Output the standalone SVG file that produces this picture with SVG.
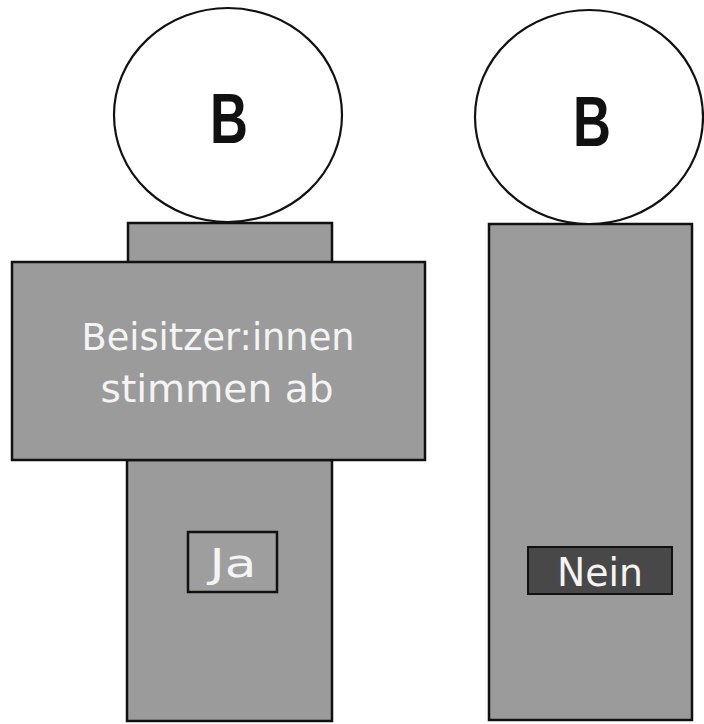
<svg xmlns="http://www.w3.org/2000/svg" width="704" height="724" viewBox="0 0 704 724">
<style>
.body{fill:#9b9b9b;stroke:#111;stroke-width:2.5}
.head{fill:#fff;stroke:#111;stroke-width:2.2}
.b{font-family:"Liberation Sans",Arial,sans-serif;font-weight:bold;font-size:71px;fill:#111;text-anchor:middle}
.lbl{font-family:"DejaVu Sans","Liberation Sans",sans-serif;font-size:37px;fill:#f4f4f4;text-anchor:middle;font-weight:normal}
</style>
<rect width="704" height="724" fill="#fff"/>
<g id="person-left">
<rect class="body" x="128" y="223" width="204" height="40"/>
<rect class="body" x="127" y="460" width="205" height="261"/>
<ellipse class="head" cx="228" cy="115" rx="114" ry="107"/>
<text class="b" transform="translate(229,143) scale(0.74,1)">B</text>
</g>
<g id="vote-box">
<rect class="body" x="12" y="262" width="413" height="198"/>
<text class="lbl" x="218" y="350" textLength="273" lengthAdjust="spacingAndGlyphs">Beisitzer:innen</text>
<text class="lbl" x="217" y="402" textLength="233" lengthAdjust="spacingAndGlyphs">stimmen ab</text>
</g>
<g id="ja">
<rect x="188" y="532" width="89" height="60" fill="#9e9e9e" stroke="#111" stroke-width="2.5"/>
<text class="lbl" x="233" y="577" style="font-size:39px" textLength="47" lengthAdjust="spacingAndGlyphs">Ja</text>
</g>
<g id="person-right">
<rect class="body" x="489" y="224" width="203" height="496"/>
<ellipse class="head" cx="589" cy="117" rx="114" ry="107"/>
<text class="b" transform="translate(592,146) scale(0.74,1)">B</text>
</g>
<g id="nein">
<rect x="528" y="547" width="144" height="47" fill="#484848" stroke="#111" stroke-width="2"/>
<text class="lbl" x="600" y="586" style="font-size:39px" textLength="86" lengthAdjust="spacingAndGlyphs">Nein</text>
</g>
</svg>
